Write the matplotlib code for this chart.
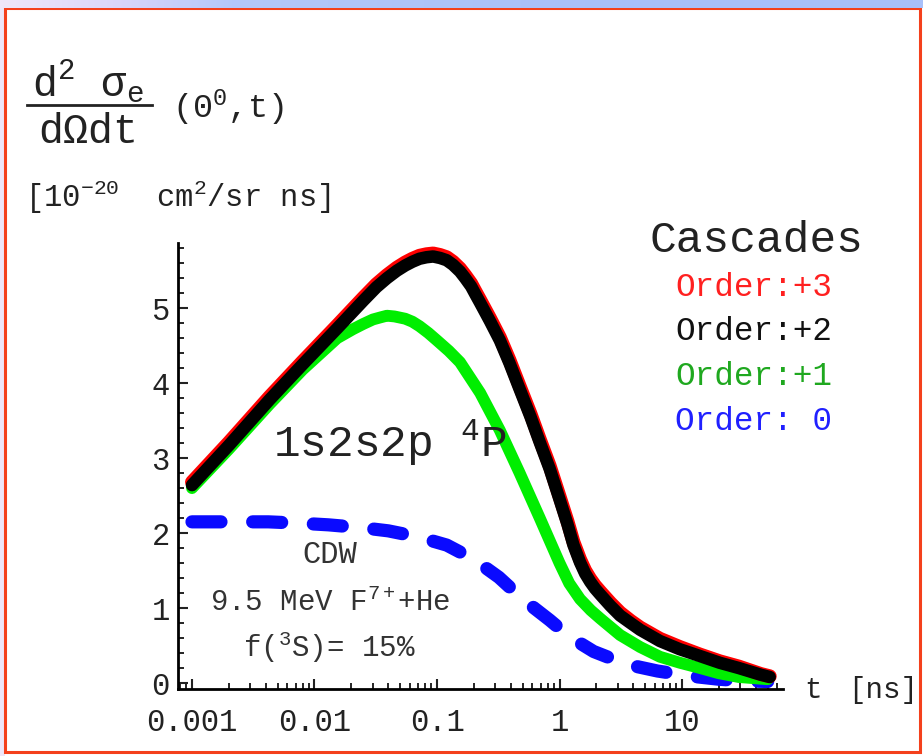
import numpy as np
import matplotlib
matplotlib.use("Agg")
import matplotlib.pyplot as plt
from matplotlib.patches import Rectangle
from matplotlib.lines import Line2D
from matplotlib.ticker import FixedLocator, NullFormatter

plt.rcParams['font.family'] = ['Liberation Mono', 'DejaVu Sans']
plt.rcParams['mathtext.fontset'] = 'custom'
plt.rcParams['mathtext.rm'] = 'Liberation Mono'
plt.rcParams['mathtext.it'] = 'Liberation Mono'
plt.rcParams['mathtext.bf'] = 'Liberation Mono'

# order +2 (black)
t_black = [0.001, 0.002, 0.0043, 0.008, 0.0153, 0.025, 0.032, 0.039, 0.047, 0.055,
           0.063, 0.072, 0.082, 0.093, 0.106, 0.12, 0.135, 0.154, 0.17, 0.19,
           0.205, 0.225, 0.27, 0.326, 0.39, 0.47, 0.58, 0.69, 0.83, 1.0, 1.16,
           1.3, 1.47, 1.62, 1.78, 1.95, 2.15, 2.6, 3.12, 3.8, 4.55, 6.6,
           9.6, 14.0, 20.3, 29.0, 44.0, 52.0]
y_black = [2.64, 3.17, 3.78, 4.25, 4.73, 5.10, 5.28, 5.40, 5.50, 5.57,
           5.62, 5.66, 5.68, 5.69, 5.67, 5.64, 5.58, 5.49, 5.40, 5.29,
           5.19, 5.07, 4.83, 4.57, 4.27, 3.93, 3.55, 3.21, 2.86, 2.45, 2.12,
           1.84, 1.61, 1.46, 1.35, 1.26, 1.18, 1.03, 0.90, 0.80, 0.71, 0.56,
           0.45, 0.36, 0.27, 0.20, 0.11, 0.08]

# order +3 (red)
t_red = t_black
y_red = [2.68, 3.21, 3.82, 4.29, 4.77, 5.14, 5.32, 5.44, 5.54, 5.61,
         5.66, 5.70, 5.72, 5.73, 5.71, 5.68, 5.62, 5.53, 5.44, 5.33,
         5.23, 5.11, 4.87, 4.61, 4.31, 3.97, 3.59, 3.25, 2.90, 2.49, 2.16,
         1.88, 1.65, 1.50, 1.39, 1.30, 1.22, 1.07, 0.94, 0.83, 0.74, 0.59,
         0.48, 0.38, 0.29, 0.22, 0.12, 0.09]

# order +1 (green)
t_green = [0.001, 0.002, 0.0043, 0.008, 0.0153, 0.0206, 0.025, 0.03, 0.035, 0.039,
           0.045, 0.055, 0.063, 0.072, 0.085, 0.1, 0.125, 0.154, 0.225, 0.326,
           0.47, 0.69, 1.0, 1.2, 1.47, 1.8, 2.15, 3.12, 4.55, 6.6, 9.6, 14.0,
           20.0, 29.0, 50.0]
y_green = [2.60, 3.12, 3.72, 4.18, 4.60, 4.72, 4.79, 4.85, 4.88, 4.90,
           4.89, 4.86, 4.82, 4.76, 4.67, 4.57, 4.43, 4.28, 3.87, 3.37,
           2.81, 2.20, 1.60, 1.33, 1.12, 0.97, 0.86, 0.64, 0.48, 0.35, 0.27, 0.20,
           0.13, 0.08, 0.05]

# order 0 (blue, dashed)
t_blue = [0.001, 0.002, 0.0042, 0.008, 0.013, 0.025, 0.04, 0.07, 0.12, 0.2, 0.32,
          0.5, 0.83, 1.2, 1.9, 3.5, 6.3, 12.0, 20.0, 30.0, 50.0]
y_blue = [2.15, 2.15, 2.15, 2.13, 2.11, 2.07, 2.03, 1.95, 1.84, 1.65, 1.41,
          1.12, 0.84, 0.62, 0.42, 0.25, 0.16, 0.09, 0.05, 0.03, 0.02]

x_ticks = [0.001, 0.01, 0.1, 1, 10]
x_labels = ['0.001', '0.01', '0.1', '1', '10']
y_ticks = [0, 1, 2, 3, 4, 5]

legend_labels = ['Order:+3', 'Order:+2', 'Order:+1', 'Order: 0']
legend_colors = ['#ff2020', '#111111', '#1fa81f', '#2020ff']

W, H = 923, 756
fig = plt.figure(figsize=(W / 100, H / 100), dpi=100)
fig.patch.set_facecolor('#ffffff')


def px(x, y):
    return x / W, 1 - y / H


# slide frame
fig.patches.append(Rectangle((0, 0), 5 / W, 1, transform=fig.transFigure,
                             facecolor='#eee6f8', edgecolor='none', zorder=-2))
band = fig.add_axes([0, 1 - 8 / H, 1, 8 / H])
grad = np.linspace(0, 1, 400)
band.imshow(grad[None, :], aspect='auto', cmap=matplotlib.colors.LinearSegmentedColormap.from_list(
    'band', [(0, '#efe7f9'), (0.12, '#dcd6f8'), (0.25, '#b4c8fa'), (0.67, '#a8c0fa'), (1, '#a8c0fa')]))
band.axis('off')
fig.patches.append(Rectangle(px(5, 752), 915 / W, 744 / H, transform=fig.transFigure,
                             facecolor='white', edgecolor='#f4401c', lw=2.2, zorder=-1))

ax = fig.add_axes([178 / W, 67 / H, 605 / W, 446 / H])
ax.set_facecolor('none')
ax.set_xscale('log')

ax.plot(t_blue, y_blue, color='#0a0aff', lw=9.5, dashes=(2.2, 2.4),
        dash_capstyle='round', solid_capstyle='round', zorder=2)
ax.plot(t_green, y_green, color='#00ee00', lw=8.5, solid_capstyle='round',
        solid_joinstyle='round', zorder=3)
ax.plot(t_red, y_red, color='#ff0000', lw=10, solid_capstyle='round',
        solid_joinstyle='round', zorder=4)
ax.plot(t_black, y_black, color='#000000', lw=9, solid_capstyle='round',
        solid_joinstyle='round', zorder=5)

ax.set_xlim(7.69e-4, 66.7)
ax.set_ylim(-0.08, 5.87)

for s in ['top', 'right']:
    ax.spines[s].set_visible(False)
for s in ['left', 'bottom']:
    ax.spines[s].set_linewidth(2)

ax.xaxis.set_major_locator(FixedLocator(x_ticks))
ax.set_xticklabels(x_labels)
minor_x = [m * 10.0 ** e for e in range(-4, 2) for m in range(2, 10)]
ax.xaxis.set_minor_locator(FixedLocator(minor_x))
ax.xaxis.set_minor_formatter(NullFormatter())
ax.set_yticks(y_ticks)
ax.yaxis.set_minor_locator(FixedLocator(np.arange(0, 5.9, 0.2)))

ax.tick_params(axis='both', which='major', direction='in', length=7, width=1.5,
               labelsize=22, colors='#222222')
ax.tick_params(axis='both', which='minor', direction='in', length=4, width=1.2)
ax.tick_params(axis='x', which='major', pad=14)
ax.tick_params(axis='y', which='major', pad=6)

# annotations inside the plot
ax.text(0.041, 3.2, '1s2s2p $^4$P', fontsize=32, ha='center', va='center', color='#222222')
ax.text(0.0133, 1.71, 'CDW', fontsize=22, ha='center', va='center', color='#333333')
ax.text(0.0133, 1.08, '9.5 MeV F$^{7+}$+He', fontsize=21, ha='center', va='center', color='#333333')
ax.text(0.0133, 0.48, 'f($^3$S)= 15%', fontsize=21, ha='center', va='center', color='#333333')

# axis titles
fig.text(*px(88, 82), 'd$^2$ σ$_\\mathrm{e}$', fontsize=30, ha='center', va='center', color='#222222')
fig.add_artist(Line2D([27 / W, 152 / W], [1 - 105 / H, 1 - 105 / H], color='#222222', lw=2))
fig.text(*px(88, 132), 'dΩdt', fontsize=30, ha='center', va='center', color='#222222')
fig.text(*px(228, 108), '(0$^0$,t)', fontsize=24, ha='center', va='center', color='#222222')
fig.text(*px(25, 197), '[10$^{-20}$  cm$^2$/sr ns]', fontsize=22, ha='left', va='center', color='#222222')
fig.text(*px(813, 690), 't', fontsize=21, ha='center', va='center', color='#222222')
fig.text(*px(883, 690), '[ns]', fontsize=21, ha='center', va='center', color='#222222')

# legend
fig.text(*px(756, 240), 'Cascades', fontsize=32, ha='center', va='center', color='#222222')
for i, (lab, col) in enumerate(zip(legend_labels, legend_colors)):
    fig.text(*px(675, 287 + 44.7 * i), lab, fontsize=23.5, ha='left', va='center', color=col)

fig.savefig('out.png', dpi=100)
